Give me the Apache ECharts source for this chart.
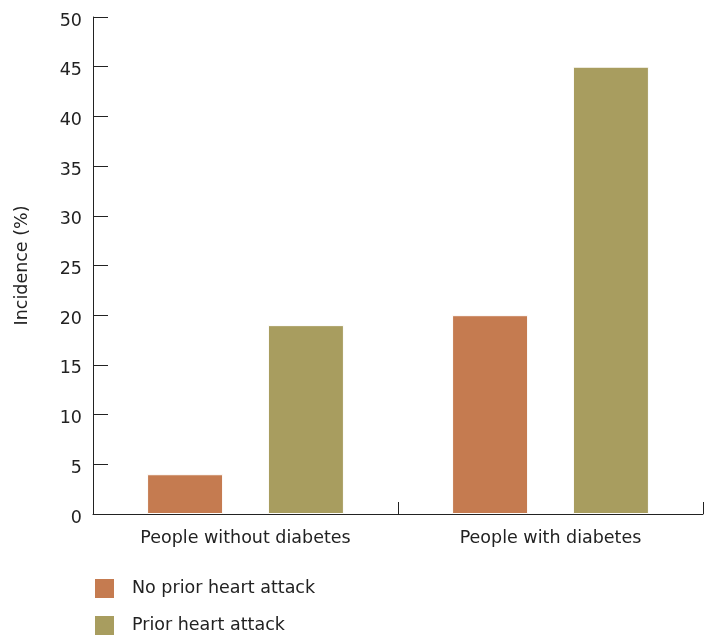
<!DOCTYPE html>
<html>
<head>
<meta charset="utf-8">
<script src="https://cdn.jsdelivr.net/npm/echarts@6/dist/echarts.min.js"></script>
<style>html,body{margin:0;padding:0;background:#fff;}#c{width:712px;height:642px;}</style>
</head>
<body>
<div id="c"></div>
<script>
const categories = ['People without diabetes', 'People with diabetes'];
const seriesNames = ['No prior heart attack', 'Prior heart attack'];
const noPrior = [4, 20];
const prior = [19, 45];
const yTicks = { min: 0, max: 50, interval: 5 };

const FONT = 'DejaVu Sans';
const FS = 17.5;
const legendBase = {
  orient: 'vertical', left: 93, padding: 0,
  itemWidth: 21, itemHeight: 21, icon: 'rect',
  textStyle: { fontFamily: FONT, fontSize: FS, color: '#222', padding: [4, 0, 0, 12] }
};
const chart = echarts.init(document.getElementById('c'), null, { renderer: 'canvas' });
chart.setOption({
  animation: false,
  textStyle: { fontFamily: FONT },
  grid: { left: 93, right: 9, top: 17, bottom: 128, containLabel: false },
  legend: [
    Object.assign({}, legendBase, { top: 577, data: [seriesNames[0]] }),
    Object.assign({}, legendBase, { top: 614, data: [seriesNames[1]] })
  ],
  xAxis: {
    type: 'category', data: categories,
    axisLine: { lineStyle: { color: '#222', width: 1 } },
    axisTick: { show: true, inside: true, length: 12, lineStyle: { color: '#222' } },
    axisLabel: { fontFamily: FONT, fontSize: FS, color: '#222', margin: 15 }
  },
  yAxis: {
    type: 'value', min: yTicks.min, max: yTicks.max, interval: yTicks.interval,
    name: 'Incidence (%)', nameLocation: 'middle', nameGap: 62, nameRotate: 90,
    nameTextStyle: { fontFamily: FONT, fontSize: FS, color: '#222' },
    axisLine: { show: true, lineStyle: { color: '#222', width: 1 } },
    axisTick: { show: true, inside: true, length: 15, lineStyle: { color: '#222' } },
    axisLabel: { fontFamily: FONT, fontSize: FS, color: '#222', margin: 11,
      verticalAlign: 'top', lineHeight: 8 },
    splitLine: { show: false }
  },
  series: [
    { name: seriesNames[0], type: 'bar', data: noPrior, barWidth: 76, barGap: '59%',
      itemStyle: { color: '#C57B50', borderColor: '#fff', borderWidth: 1 } },
    { name: seriesNames[1], type: 'bar', data: prior, barWidth: 76, barGap: '59%',
      itemStyle: { color: '#A89D5F', borderColor: '#fff', borderWidth: 1 } }
  ]
});
</script>
</body>
</html>
